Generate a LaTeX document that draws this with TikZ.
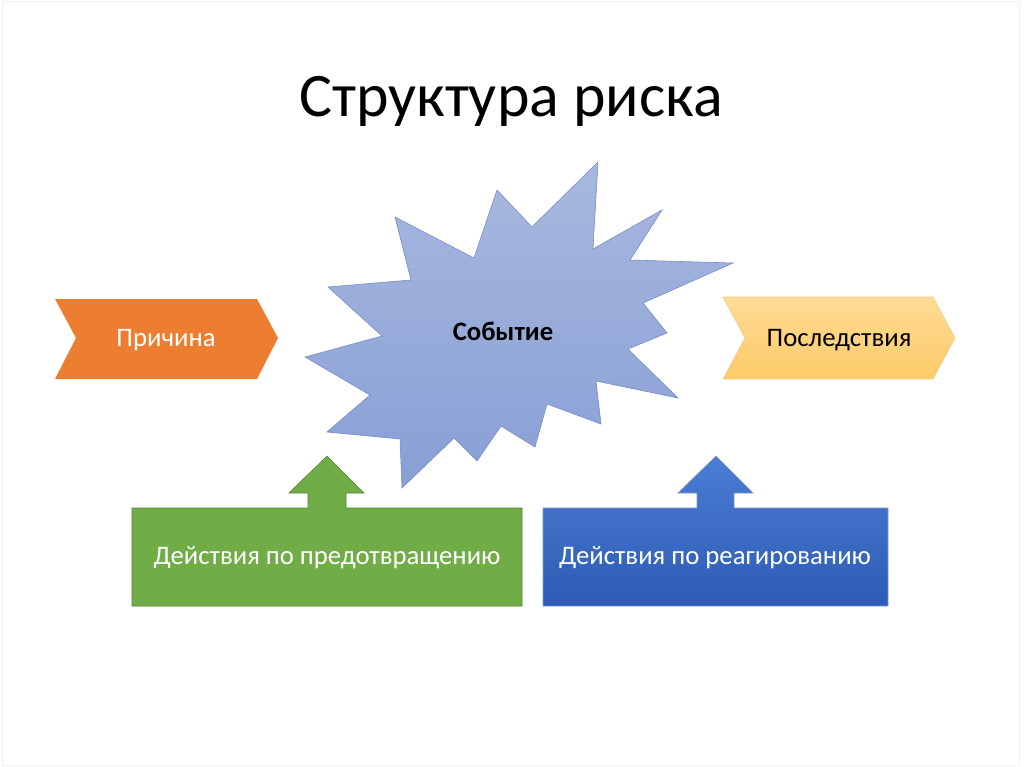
\documentclass[tikz,border=0pt]{standalone}
\usepackage{fontspec}
\setmainfont{Carlito}
\usepackage{tikz}
\usetikzlibrary{positioning}
\definecolor{causeor}{HTML}{ED7D31}
\definecolor{effyel}{HTML}{FFDB96}
\definecolor{effyeldk}{HTML}{FCCB68}
\definecolor{evtop}{HTML}{A8B8DF}
\definecolor{evbot}{HTML}{889FD5}
\definecolor{evline}{HTML}{7289C8}
\definecolor{prevgr}{HTML}{70AD47}
\definecolor{prevline}{HTML}{548235}
\definecolor{resptop}{HTML}{4B7DD3}
\definecolor{respbot}{HTML}{2D5BB5}
\definecolor{respline}{HTML}{2F528F}
\tikzset{
  lbl/.style={font=\fontsize{19}{23}\selectfont, inner sep=0pt},
  wlbl/.style={lbl, text=white}
}

\begin{document}
\begin{tikzpicture}[x=0.025cm, y=-0.025cm]
  \useasboundingbox (0,0) rectangle (1024,767);
  \draw[gray!10] (2,1) rectangle (1019,765);
  \node[font=\fontsize{44}{50}\selectfont] (title) at (511,101) {Структура риска};

  % event star
  \path[draw=evline, top color=evtop, bottom color=evbot, line width=0.4pt]
    (598,162) -- (593,249) -- (662,210) -- (630,260) -- (733,263) -- (643,303)
    -- (667,333) -- (628,349) -- (678,398) -- (596,381) -- (601,424) -- (547,404)
    -- (535,447) -- (501,426) -- (477,461) -- (454,438) -- (402,488) -- (400,439)
    -- (327,432) -- (370,395) -- (305,357) -- (382,336) -- (328,287) -- (411,280)
    -- (395,217) -- (474,258) -- (497,190) -- (532,227) -- cycle;
  \node[lbl, font=\fontsize{19}{23}\selectfont\bfseries] (event) at (503,331) {Событие};

  % cause and effect chevrons
  \fill[causeor] (55,299) -- (257,299) -- (278,338) -- (257,379) -- (55,379) -- (76,338) -- cycle;
  \node[wlbl] (cause) at (166,340) {Причина};
  \path[draw=effyeldk!90!black!40!effyel, top color=effyel, bottom color=effyeldk]
    (723,297) -- (933,297) -- (955,338) -- (933,379) -- (723,379) -- (745,338) -- cycle;
  \node[lbl] (effect) at (839,340) {Последствия};

  % action callouts
  \path[draw=prevline, fill=prevgr]
    (132,508) -- (308,508) -- (308,493) -- (289,493) -- (327,456) -- (364,493)
    -- (346,493) -- (346,508) -- (522,508) -- (522,606) -- (132,606) -- cycle;
  \node[wlbl] (prevent) at (327,558) {Действия по предотвращению};
  \path[draw=respline!60, top color=resptop, bottom color=respbot]
    (543,508) -- (697,508) -- (697,493) -- (678,493) -- (716,456) -- (753,493)
    -- (734,493) -- (734,508) -- (888,508) -- (888,606) -- (543,606) -- cycle;
  \node[wlbl] (respond) at (715,558) {Действия по реагированию};
\end{tikzpicture}
\end{document}
